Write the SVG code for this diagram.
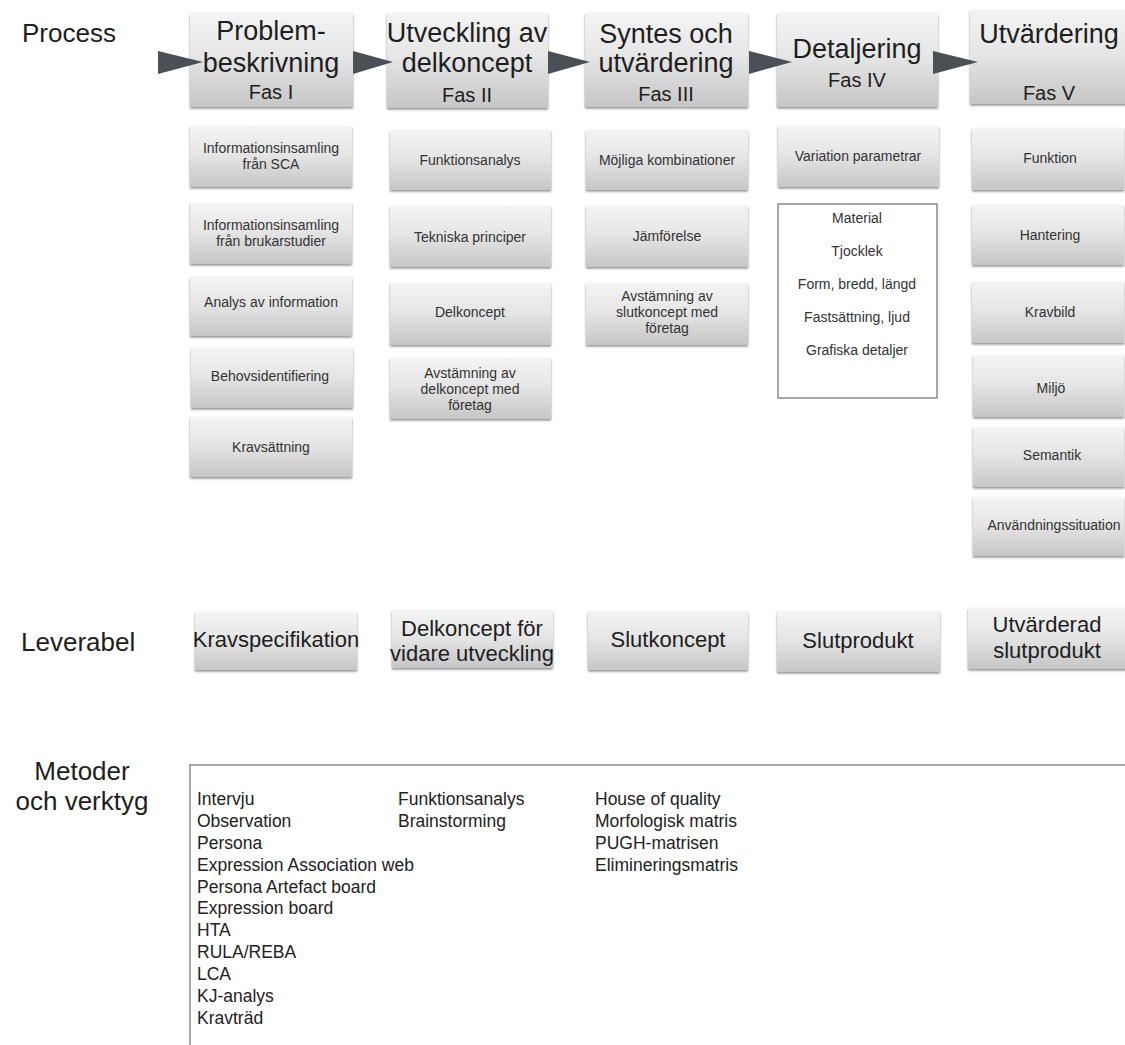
<svg xmlns="http://www.w3.org/2000/svg" width="1125" height="1045" viewBox="0 0 1125 1045">
<defs>
<linearGradient id="g" x1="0" y1="0" x2="0" y2="1">
<stop offset="0" stop-color="#f4f4f4"/>
<stop offset="0.45" stop-color="#e6e6e6"/>
<stop offset="1" stop-color="#c6c6c6"/>
</linearGradient>
<filter id="sh" x="-5%" y="-5%" width="110%" height="120%">
<feDropShadow dx="0" dy="1.5" stdDeviation="1" flood-color="#000" flood-opacity="0.45"/>
</filter>
</defs>
<style>
.box{fill:url(#g);filter:url(#sh)}
.t{font-family:"Liberation Sans",Arial,sans-serif;text-anchor:middle}
.h{font-size:27px;fill:#1e1e1e}
.f{font-size:20px;fill:#1e1e1e}
.s{font-size:14px;fill:#333}
.l{font-size:22px;fill:#1e1e1e}
.lab{font-family:"Liberation Sans",Arial,sans-serif;font-size:26px;fill:#1e1e1e}
.m{font-family:"Liberation Sans",Arial,sans-serif;font-size:17.5px;fill:#222}
.arr{fill:#4b5057}
.frame{fill:none;stroke:#8a8a8a;stroke-width:1.5}
</style>
<rect width="1125" height="1045" fill="#fff"/>

<text class="lab" x="22" y="42">Process</text>
<text class="lab" x="21" y="651">Leverabel</text>
<text class="lab" x="82" y="780" text-anchor="middle">Metoder</text>
<text class="lab" x="82" y="810" text-anchor="middle">och verktyg</text>

<g id="fas1"><rect class="box" x="190" y="13" width="163" height="94"/>
<text class="t h" x="271" y="40">Problem-</text><text class="t h" x="271" y="72">beskrivning</text><text class="t f" x="271" y="99">Fas I</text></g>
<g id="fas2"><rect class="box" x="387" y="13" width="161" height="95"/>
<text class="t h" x="467" y="42">Utveckling av</text><text class="t h" x="467" y="72">delkoncept</text><text class="t f" x="467" y="102">Fas II</text></g>
<g id="fas3"><rect class="box" x="585" y="13" width="163" height="94"/>
<text class="t h" x="666" y="43">Syntes och</text><text class="t h" x="666" y="72">utvärdering</text><text class="t f" x="666" y="101">Fas III</text></g>
<g id="fas4"><rect class="box" x="777" y="13" width="161" height="94"/>
<text class="t h" x="857" y="58">Detaljering</text><text class="t f" x="857" y="87">Fas IV</text></g>
<g id="fas5"><rect class="box" x="970" y="10" width="160" height="94"/>
<text class="t h" x="1049" y="43">Utvärdering</text><text class="t f" x="1049" y="100">Fas V</text></g>

<g id="connectors">
<polygon class="arr" points="158,51 203,62 158,74"/>
<polygon class="arr" points="353,51 393,62 353,74"/>
<polygon class="arr" points="548,51 590,62 548,74"/>
<polygon class="arr" points="749,51 792,62 749,74"/>
<polygon class="arr" points="933,51 978,62 933,74"/>
</g>

<g id="c1a"><rect class="box" x="190" y="126" width="162" height="61"/><text class="t s" x="271" y="153">Informationsinsamling</text><text class="t s" x="271" y="169">från SCA</text></g>
<g id="c1b"><rect class="box" x="190" y="203" width="162" height="61"/><text class="t s" x="271" y="230">Informationsinsamling</text><text class="t s" x="271" y="246">från brukarstudier</text></g>
<g id="c1c"><rect class="box" x="190" y="277" width="162" height="59"/><text class="t s" x="271" y="307">Analys av information</text></g>
<g id="c1d"><rect class="box" x="191" y="348" width="162" height="60"/><text class="t s" x="270" y="381">Behovsidentifiering</text></g>
<g id="c1e"><rect class="box" x="190" y="417" width="162" height="60"/><text class="t s" x="271" y="452">Kravsättning</text></g>

<g id="c2a"><rect class="box" x="390" y="130" width="161" height="60"/><text class="t s" x="470" y="165">Funktionsanalys</text></g>
<g id="c2b"><rect class="box" x="390" y="206" width="161" height="61"/><text class="t s" x="470" y="242">Tekniska principer</text></g>
<g id="c2c"><rect class="box" x="390" y="283" width="161" height="62"/><text class="t s" x="470" y="317">Delkoncept</text></g>
<g id="c2d"><rect class="box" x="390" y="358" width="161" height="61"/><text class="t s" x="470" y="378">Avstämning av</text><text class="t s" x="470" y="394">delkoncept med</text><text class="t s" x="470" y="410">företag</text></g>

<g id="c3a"><rect class="box" x="586" y="130" width="162" height="60"/><text class="t s" x="667" y="165">Möjliga kombinationer</text></g>
<g id="c3b"><rect class="box" x="586" y="206" width="162" height="61"/><text class="t s" x="667" y="241">Jämförelse</text></g>
<g id="c3c"><rect class="box" x="586" y="283" width="162" height="62"/><text class="t s" x="667" y="301">Avstämning av</text><text class="t s" x="667" y="317">slutkoncept med</text><text class="t s" x="667" y="333">företag</text></g>

<g id="c4a"><rect class="box" x="778" y="126" width="161" height="61"/><text class="t s" x="858" y="161">Variation parametrar</text></g>
<g id="c4b"><rect x="778" y="204" width="159" height="194" fill="#fff" stroke="#8a8a8a" stroke-width="1.5"/>
<text class="t s" x="857" y="223">Material</text><text class="t s" x="857" y="256">Tjocklek</text><text class="t s" x="857" y="289">Form, bredd, längd</text><text class="t s" x="857" y="322">Fastsättning, ljud</text><text class="t s" x="857" y="355">Grafiska detaljer</text></g>

<g id="c5a"><rect class="box" x="972" y="128" width="152" height="62"/><text class="t s" x="1050" y="163">Funktion</text></g>
<g id="c5b"><rect class="box" x="972" y="205" width="152" height="60"/><text class="t s" x="1050" y="240">Hantering</text></g>
<g id="c5c"><rect class="box" x="972" y="282" width="152" height="61"/><text class="t s" x="1050" y="317">Kravbild</text></g>
<g id="c5d"><rect class="box" x="973" y="355" width="151" height="62"/><text class="t s" x="1051" y="393">Miljö</text></g>
<g id="c5e"><rect class="box" x="973" y="427" width="151" height="60"/><text class="t s" x="1052" y="460">Semantik</text></g>
<g id="c5f"><rect class="box" x="973" y="497" width="151" height="59"/><text class="t s" x="1054" y="530">Användningssituation</text></g>

<g id="lev1"><rect class="box" x="195" y="612" width="162" height="58"/><text class="t l" x="276" y="647">Kravspecifikation</text></g>
<g id="lev2"><rect class="box" x="392" y="610" width="161" height="58"/><text class="t l" x="472" y="636">Delkoncept för</text><text class="t l" x="472" y="661">vidare utveckling</text></g>
<g id="lev3"><rect class="box" x="588" y="611" width="160" height="59"/><text class="t l" x="668" y="647">Slutkoncept</text></g>
<g id="lev4"><rect class="box" x="777" y="611" width="163" height="61"/><text class="t l" x="858" y="648">Slutprodukt</text></g>
<g id="lev5"><rect class="box" x="968" y="608" width="160" height="61"/><text class="t l" x="1047" y="632">Utvärderad</text><text class="t l" x="1047" y="658">slutprodukt</text></g>

<g id="metoder">
<path class="frame" d="M1125,765 H190 V1045"/>
<text class="m" x="197" y="805">Intervju</text>
<text class="m" x="197" y="827">Observation</text>
<text class="m" x="197" y="849">Persona</text>
<text class="m" x="197" y="871">Expression Association web</text>
<text class="m" x="197" y="893">Persona Artefact board</text>
<text class="m" x="197" y="914">Expression board</text>
<text class="m" x="197" y="936">HTA</text>
<text class="m" x="197" y="958">RULA/REBA</text>
<text class="m" x="197" y="980">LCA</text>
<text class="m" x="197" y="1002">KJ-analys</text>
<text class="m" x="197" y="1024">Kravträd</text>
<text class="m" x="398" y="805">Funktionsanalys</text>
<text class="m" x="398" y="827">Brainstorming</text>
<text class="m" x="595" y="805">House of quality</text>
<text class="m" x="595" y="827">Morfologisk matris</text>
<text class="m" x="595" y="849">PUGH-matrisen</text>
<text class="m" x="595" y="871">Elimineringsmatris</text>
</g>
</svg>
